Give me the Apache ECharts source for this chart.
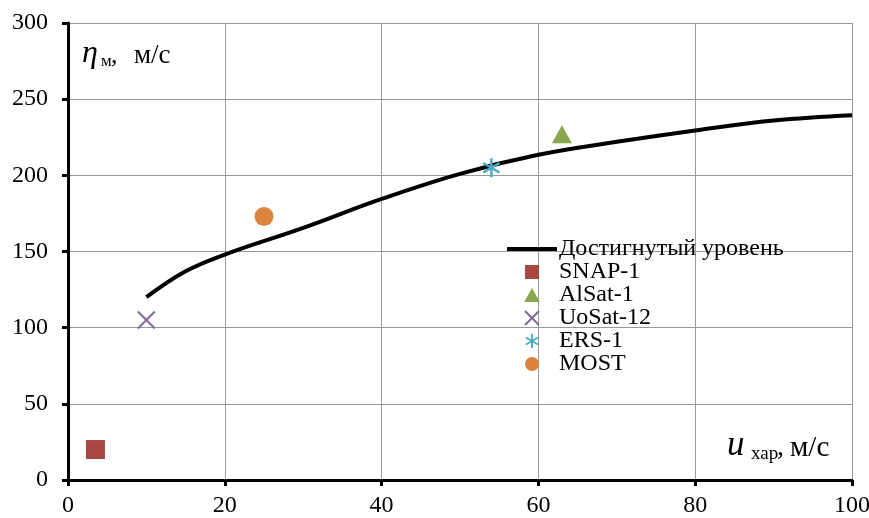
<!DOCTYPE html>
<html><head><meta charset="utf-8">
<script src="https://cdn.jsdelivr.net/npm/echarts@6/dist/echarts.min.js"></script>
<style>html,body{margin:0;padding:0;background:#fff}#c{width:869px;height:518px}</style>
</head><body><div id="c"></div>
<script>
const curveX = [10, 15, 20, 30, 40, 50, 60, 70, 80, 90, 100];
const curveY = [120, 137, 148, 165.5, 184.5, 201, 213.5, 222, 229.5, 236, 239.5];
const pointNames = ['SNAP-1', 'AlSat-1', 'UoSat-12', 'ERS-1', 'MOST'];
const pointX = [3.5, 63, 10, 54, 25];
const pointY = [20, 227, 105, 205, 173];
const lineName = 'Достигнутый уровень';
const xTicks = [0, 20, 40, 60, 80, 100];
const yTicks = [0, 50, 100, 150, 200, 250, 300];

const F = 'Liberation Serif, Times New Roman, serif';
const symbols = [
  {symbol: 'path://M0,0L10,0L10,10L0,10Z', size: 19, color: '#AA4643', stroke: false},
  {symbol: 'path://M5,0L10,9L0,9Z', size: 20, color: '#89A54E', stroke: false},
  {symbol: 'path://M0,0L10,10M10,0L0,10', size: 17, color: '#80699B', stroke: true, bw: 2},
  {symbol: 'path://M5,0L5,10M0.7,2.5L9.3,7.5M0.7,7.5L9.3,2.5', size: 19, color: '#4BACC6', stroke: true, bw: 2.5},
  {symbol: 'circle', size: 19, color: '#DB843D', stroke: false}
];

const series = [{
  name: lineName, type: 'line', smooth: 0.4, showSymbol: false, symbol: 'none',
  data: curveX.map((x, i) => [x, curveY[i]]),
  lineStyle: {color: '#000', width: 4}, itemStyle: {color: '#000'}, z: 3
}];
pointNames.forEach((n, i) => {
  const s = symbols[i];
  series.push({
    name: n, type: 'scatter', symbol: s.symbol, symbolSize: s.size, symbolKeepAspect: true,
    data: [[pointX[i], pointY[i]]],
    itemStyle: s.stroke ? {color: 'rgba(0,0,0,0)', borderColor: s.color, borderWidth: s.bw, opacity: 1}
                        : {color: s.color, opacity: 1},
    emphasis: {disabled: true},
    z: 4
  });
});

const legendData = [{name: lineName, icon: 'path://M0,0L50,0L50,4L0,4Z'}]
  .concat(pointNames.map(n => ({name: n})));

const chart = echarts.init(document.getElementById('c'));
chart.setOption({
  animation: false,
  backgroundColor: '#fff',
  grid: {left: 68, top: 23, right: 17, bottom: 38, outerBoundsMode: 'none', containLabel: false},
  xAxis: {
    type: 'value', min: 0, max: 100, interval: 20,
    axisLine: {show: true, onZero: false, lineStyle: {color: '#000', width: 3}},
    axisTick: {show: true, length: 6, lineStyle: {color: '#000', width: 3}},
    axisLabel: {color: '#000', fontFamily: F, fontSize: 24, margin: 14, hideOverlap: false},
    splitLine: {show: true, lineStyle: {color: '#999', width: 1}}
  },
  yAxis: {
    type: 'value', min: 0, max: 300, interval: 50,
    axisLine: {show: true, onZero: false, lineStyle: {color: '#000', width: 3}},
    axisTick: {show: true, length: 6, lineStyle: {color: '#000', width: 3}},
    axisLabel: {color: '#000', fontFamily: F, fontSize: 24, margin: 20},
    splitLine: {show: true, lineStyle: {color: '#999', width: 1}}
  },
  legend: {
    orient: 'vertical', left: 507, top: 237, padding: 0,
    itemWidth: 50, itemHeight: 14, itemGap: -1, symbolKeepAspect: true,
    textStyle: {fontFamily: F, fontSize: 24, lineHeight: 22, color: '#000', padding: [0, 0, 0, -3]},
    data: legendData
  },
  graphic: [
    {type: 'text', x: 82, y: 54, style: {text: 'η', fontFamily: F, fontStyle: 'italic', fontSize: 32, fill: '#000', verticalAlign: 'middle'}},
    {type: 'text', x: 101, y: 62, style: {text: 'м', fontFamily: F, fontSize: 17, fill: '#000', verticalAlign: 'middle'}},
    {type: 'text', x: 111, y: 56, style: {text: ',', fontFamily: F, fontSize: 26, fill: '#000', verticalAlign: 'middle'}},
    {type: 'text', x: 134, y: 56, style: {text: 'м/с', fontFamily: F, fontSize: 27, fill: '#000', verticalAlign: 'middle'}},
    {type: 'text', x: 727, y: 446, style: {text: 'u', fontFamily: F, fontStyle: 'italic', fontSize: 35, fill: '#000', verticalAlign: 'middle'}},
    {type: 'text', x: 751, y: 454, style: {text: 'хар', fontFamily: F, fontSize: 19, fill: '#000', verticalAlign: 'middle'}},
    {type: 'text', x: 777, y: 448, style: {text: ',', fontFamily: F, fontSize: 28, fill: '#000', verticalAlign: 'middle'}},
    {type: 'text', x: 790, y: 448, style: {text: 'м/с', fontFamily: F, fontSize: 29, fill: '#000', verticalAlign: 'middle'}}
  ],
  series: series
});
</script></body></html>
